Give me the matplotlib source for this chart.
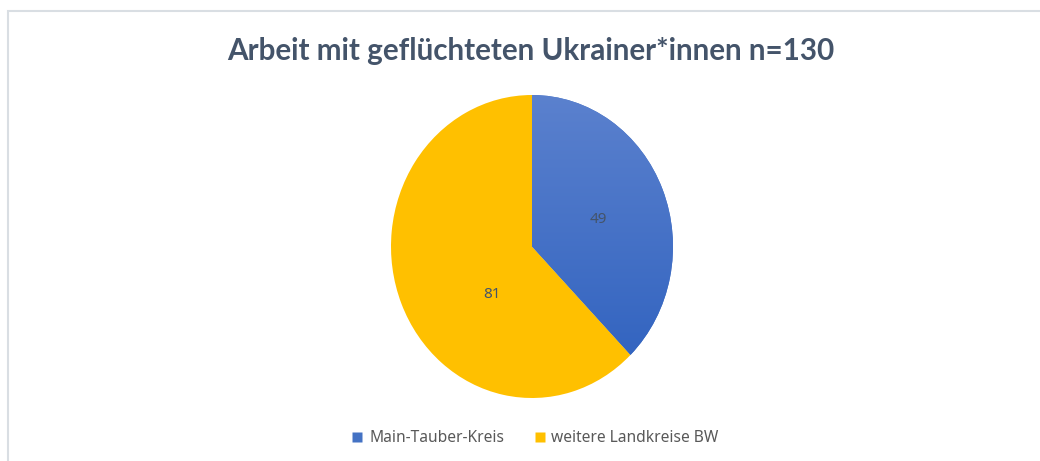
import matplotlib
matplotlib.use("Agg")
import matplotlib.pyplot as plt
import numpy as np
from matplotlib.patches import Rectangle
from matplotlib.colors import LinearSegmentedColormap
from matplotlib.lines import Line2D

title = "Arbeit mit geflüchteten Ukrainer*innen n=130"
categories = ["Main-Tauber-Kreis", "weitere Landkreise BW"]
values = [49, 81]

W, H = 1040, 461
fig = plt.figure(figsize=(W / 100, H / 100), dpi=100)
fig.patch.set_facecolor("white")

# chart frame (cut off at right/bottom)
fig.add_artist(Rectangle((7.5 / W, -0.1), 1.2, (H - 11.5) / H + 0.1,
                         transform=fig.transFigure, fill=False,
                         edgecolor="#D9DEE3", linewidth=1.5))

fig.text(531 / W, 1 - 51 / H, title, ha="center", va="center",
         fontsize=21.3, fontweight="bold", color="#44546A", family="Lato")

ax = fig.add_axes([391 / W, 63 / H, 282 / W, 303 / H])
blue = "#4472C4"
yellow = "#FFC000"
wedges, texts = ax.pie(values, colors=[blue, yellow], startangle=90,
                       counterclock=False, labels=[str(v) for v in values],
                       labeldistance=0.5,
                       textprops=dict(fontsize=11, color="#44546A", family="Noto Sans"),
                       wedgeprops=dict(linewidth=0))
ax.set_aspect("auto")
ax.axis("off")

# label placement as in reference
texts[0].set_position((0.468, 0.18))
texts[1].set_position((-0.284, -0.32))
for t in texts:
    t.set_ha("center"); t.set_va("center"); t.set_zorder(5)

# gradient on blue wedge
cmap = LinearSegmentedColormap.from_list("g", ["#2D60BE", "#5B81CE"])
grad = np.linspace(0, 1, 256).reshape(-1, 1)
im = ax.imshow(grad, cmap=cmap, extent=[-1, 1, -1, 1], origin="lower",
               aspect="auto", zorder=wedges[0].get_zorder() + 0.1)
im.set_clip_path(wedges[0])
ax.set_xlim(-1, 1)
ax.set_ylim(-1, 1)

# legend
handles = [Line2D([], [], marker="s", linestyle="none", markersize=6.5,
                  markerfacecolor=c, markeredgecolor="none") for c in [blue, yellow]]
fig.legend(handles, categories, loc="center", bbox_to_anchor=(535 / W, 1 - 438 / H),
           ncol=2, frameon=False, handletextpad=0.35, columnspacing=1.9,
           handlelength=0.8,
           prop=dict(family="Noto Sans", size=11.2), labelcolor="#595959")

fig.savefig("out.png", dpi=100, facecolor="white")
